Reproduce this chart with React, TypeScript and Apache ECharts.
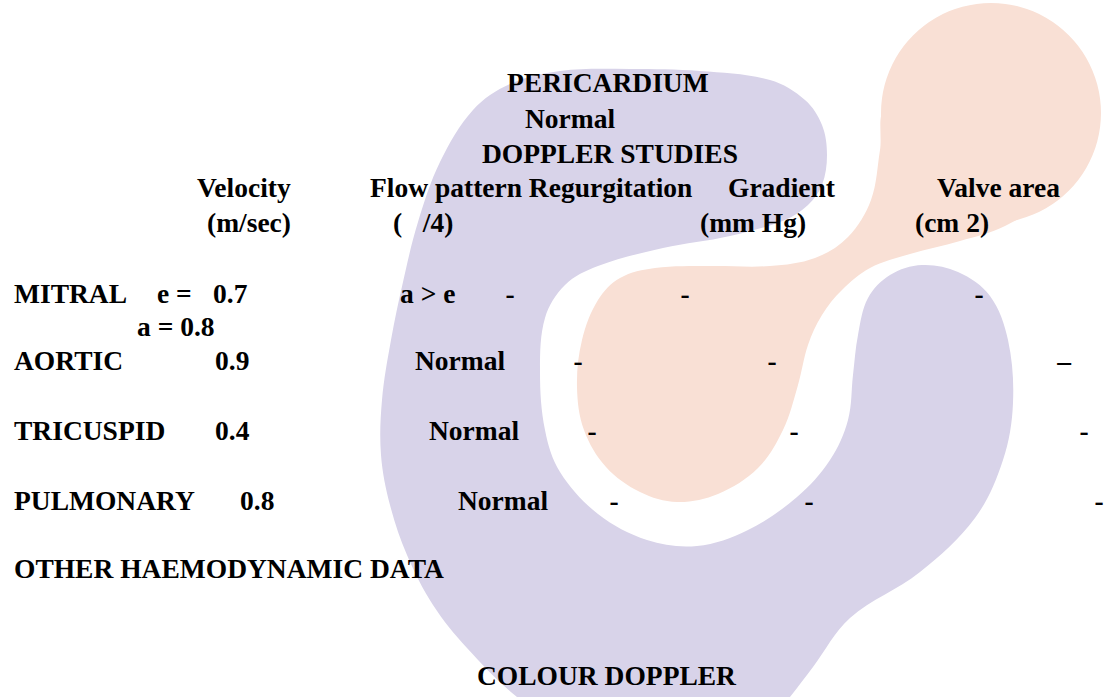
import React, { useEffect, useRef } from "react";
import * as echarts from "echarts";

// ---- content ----
const titleLines = ["PERICARDIUM", "Normal", "DOPPLER STUDIES"];
const columnHeaders = ["Velocity", "Flow pattern Regurgitation", "Gradient", "Valve area"];
const columnUnits = ["(m/sec)", "(   /4)", "(mm Hg)", "(cm 2)"];
const valves = ["MITRAL", "AORTIC", "TRICUSPID", "PULMONARY"];
const velocityPrefix = ["e =", "", "", ""];
const velocities = ["0.7", "0.9", "0.4", "0.8"];
const mitralSecondLine = "a = 0.8";
const flowPatterns = ["a > e", "Normal", "Normal", "Normal"];
const regurgitation = ["-", "-", "-", "-"];
const gradients = ["-", "-", "-", "-"];
const valveAreas = ["-", "\u2013", "-", "-"];
const footerLines = ["OTHER HAEMODYNAMIC DATA", "COLOUR DOPPLER"];

// ---- layout (left x / baseline y) ----
const titleX = [507, 525, 482];
const titleBase = [92, 128, 163];
const headerX = [197, 370, 728, 937];
const headerBase = 197;
const unitX = [207, 393, 700, 915];
const unitBase = 232;
const rowBase = [303, 370, 440, 510];
const labelX = 14;
const prefixX = 157;
const velocityX = [213, 215, 215, 240];
const secondLineX = 137;
const secondLineBase = 336;
const flowX = [400, 415, 429, 458];
const regX = [510, 578, 592, 614];
const gradX = [685, 772, 794, 809];
const areaX = [979, 1064, 1084, 1099];
const footerX = [14, 477];
const footerBase = [578, 685];

const FONT_SIZE = 27.5;
const FONT = `bold ${FONT_SIZE}px "Liberation Serif", "Times New Roman", serif`;
const BASE_OFF = FONT_SIZE * 0.3375;

const LAVENDER = "rgb(216,211,233)";
const PEACH = "rgb(249,224,213)";

const lavenderC: number[][] = [
  [827, 155], [822, 125], [805, 100], [770, 80], [700, 71], [630, 69], [560, 71], [510, 84],
  [473, 110], [440, 162], [418, 222], [403, 282], [391, 340], [382, 400], [381, 455],
  [390, 505], [407, 555], [433, 605], [467, 648], [517, 697], [580, 740], [680, 760],
  [760, 735], [790, 697], [813, 667], [850, 618], [920, 572], [975, 518], [1003, 460],
  [1013, 403], [1008, 340], [990, 296], [958, 272], [922, 265], [890, 275], [868, 298],
  [858, 335], [853, 375], [848, 420], [830, 460], [797, 497], [748, 530], [697, 546],
  [647, 540], [598, 514], [560, 472], [545, 430], [540, 372], [545, 318], [565, 285],
  [598, 266], [663, 248], [730, 236], [785, 220], [808, 205], [822, 185],
];

const peachBlob: number[][] = [
  [886, 110], [880, 150], [871, 200], [848, 237], [815, 258], [770, 266], [710, 266],
  [655, 268], [620, 278], [598, 300], [582, 340], [577, 387], [584, 430], [606, 467],
  [640, 492], [677, 502], [718, 494], [758, 468], [783, 430], [798, 385], [808, 345],
  [822, 315], [842, 290], [870, 268], [910, 254], [960, 241], [1005, 226], [1030, 205],
  [960, 140],
];

function txt(text: string, x: number, baseline: number, align = "left") {
  return {
    type: "text",
    silent: true,
    style: {
      text,
      x,
      y: baseline - BASE_OFF,
      font: FONT,
      fill: "#000",
      textAlign: align,
      textVerticalAlign: "middle",
      align,
      verticalAlign: "middle",
    },
  };
}

export default function App() {
  const ref = useRef<HTMLDivElement>(null);
  useEffect(() => {
    document.body.style.margin = "0";
    document.body.style.background = "#fff";
    if (!ref.current) return;
    const chart = echarts.init(ref.current, null, { renderer: "svg" });

    const elements: any[] = [
      {
        type: "polygon",
        silent: true,
        shape: { points: lavenderC, smooth: 0.35 },
        style: { fill: LAVENDER },
      },
      {
        type: "circle",
        silent: true,
        shape: { cx: 991, cy: 113, r: 110 },
        style: { fill: PEACH },
      },
      {
        type: "polygon",
        silent: true,
        shape: { points: peachBlob, smooth: 0.35 },
        style: { fill: PEACH },
      },
    ];

    titleLines.forEach((t, i) => elements.push(txt(t, titleX[i], titleBase[i])));
    columnHeaders.forEach((t, i) => elements.push(txt(t, headerX[i], headerBase)));
    columnUnits.forEach((t, i) => elements.push(txt(t, unitX[i], unitBase)));
    valves.forEach((v, i) => {
      const b = rowBase[i];
      elements.push(txt(v, labelX, b));
      if (velocityPrefix[i]) elements.push(txt(velocityPrefix[i], prefixX, b));
      elements.push(txt(velocities[i], velocityX[i], b));
      elements.push(txt(flowPatterns[i], flowX[i], b));
      elements.push(txt(regurgitation[i], regX[i], b, "center"));
      elements.push(txt(gradients[i], gradX[i], b, "center"));
      elements.push(txt(valveAreas[i], areaX[i], b, "center"));
    });
    elements.push(txt(mitralSecondLine, secondLineX, secondLineBase));
    footerLines.forEach((t, i) => elements.push(txt(t, footerX[i], footerBase[i])));

    chart.setOption({
      animation: false,
      backgroundColor: "#fff",
      graphic: { elements },
    });
    return () => chart.dispose();
  }, []);
  return <div ref={ref} style={{ width: 1105, height: 697 }} />;
}
